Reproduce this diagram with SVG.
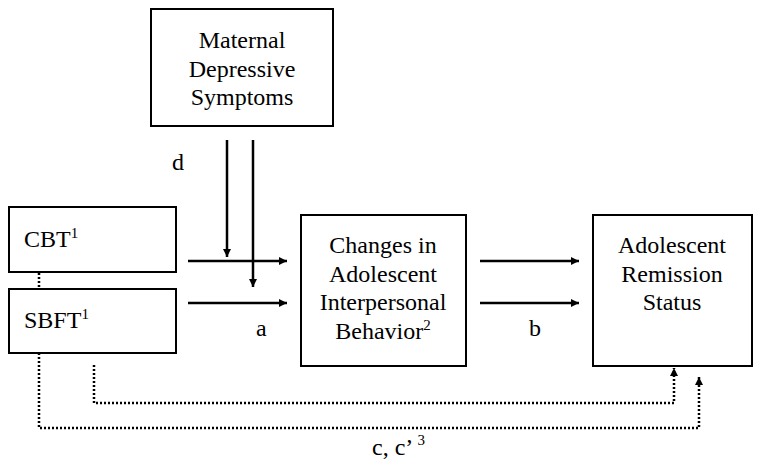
<svg xmlns="http://www.w3.org/2000/svg" width="770" height="465" viewBox="0 0 770 465">
<style>
.box{fill:#fff;stroke:#000;stroke-width:2}
text{font-family:'Liberation Serif','DejaVu Serif',serif;font-size:24px;fill:#000}
.c{text-anchor:middle}
.sup{font-size:15px}
.ar{stroke:#000;stroke-width:2.5;fill:none}
.dot{stroke:#000;stroke-width:2.5;fill:none;stroke-dasharray:2 2}
</style>
<defs>
<marker id="ah" viewBox="0 0 10 10" refX="10" refY="5" markerWidth="3.4" markerHeight="3.2" orient="auto" markerUnits="strokeWidth">
<path d="M0,0 L10,5 L0,10 z" fill="#000"/>
</marker>
</defs>
<rect width="770" height="465" fill="#fff"/>
<g id="maternal">
<rect class="box" x="151" y="9" width="182" height="117"/>
<text class="c" x="242" y="48">Maternal</text>
<text class="c" x="242" y="77">Depressive</text>
<text class="c" x="242" y="105">Symptoms</text>
</g>
<g id="cbt">
<rect class="box" x="9" y="207" width="167" height="65"/>
<text x="24" y="247">CBT<tspan class="sup" dy="-9">1</tspan></text>
</g>
<g id="sbft">
<rect class="box" x="9" y="289" width="167" height="64"/>
<text x="24" y="328">SBFT<tspan class="sup" dy="-9">1</tspan></text>
</g>
<g id="changes">
<rect class="box" x="301" y="215" width="165" height="151"/>
<text class="c" x="383" y="253">Changes in</text>
<text class="c" x="383" y="282">Adolescent</text>
<text class="c" x="383" y="310">Interpersonal</text>
<text class="c" x="383" y="339">Behavior<tspan class="sup" dy="-9">2</tspan></text>
</g>
<g id="remission">
<rect class="box" x="593" y="215" width="159" height="151"/>
<text class="c" x="672" y="253">Adolescent</text>
<text class="c" x="672" y="282">Remission</text>
<text class="c" x="672" y="310">Status</text>
</g>
<g id="connectors">
<line class="ar" x1="227" y1="140" x2="227" y2="257" marker-end="url(#ah)"/>
<line class="ar" x1="253" y1="140" x2="253" y2="287" marker-end="url(#ah)"/>
<line class="ar" x1="188" y1="261" x2="287" y2="261" marker-end="url(#ah)"/>
<line class="ar" x1="188" y1="303" x2="287" y2="303" marker-end="url(#ah)"/>
<line class="ar" x1="480" y1="261" x2="579" y2="261" marker-end="url(#ah)"/>
<line class="ar" x1="480" y1="303" x2="579" y2="303" marker-end="url(#ah)"/>
<line class="dot" x1="39" y1="273" x2="39" y2="289"/>
<polyline class="dot" points="94,365 94,403 674,403 674,368" marker-end="url(#ah)"/>
<polyline class="dot" points="39,353 39,428 699,428 699,377" marker-end="url(#ah)"/>
<text x="172" y="170">d</text>
<text x="256" y="336">a</text>
<text x="529" y="336">b</text>
<text x="372" y="455">c, c’ <tspan class="sup" dy="-10">3</tspan></text>
</g>
</svg>
